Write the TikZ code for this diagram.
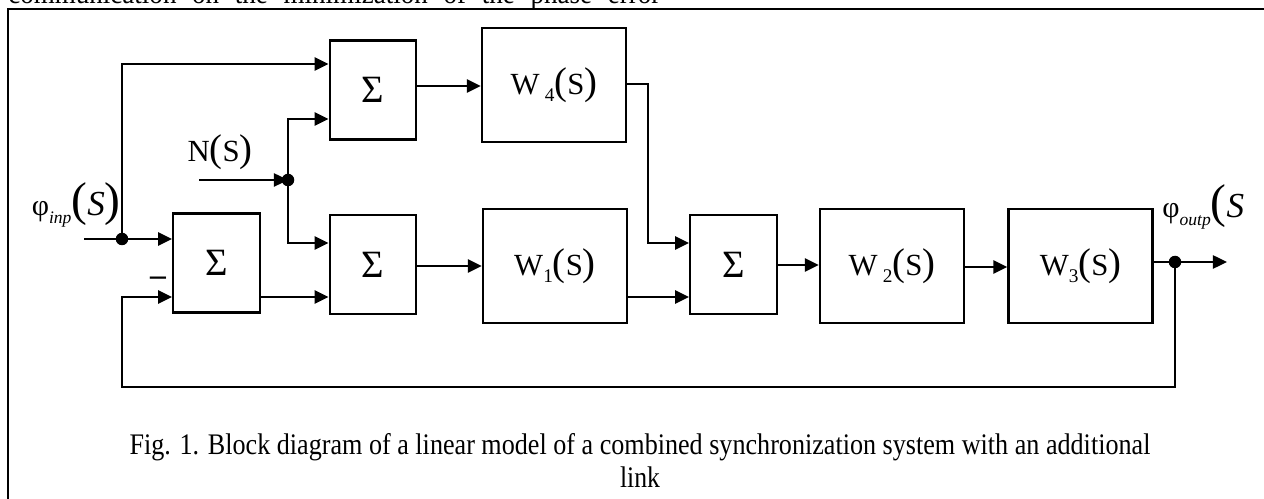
\documentclass[tikz,border=0pt]{standalone}
\usepackage{fontspec}
\usepackage{graphicx}
\setmainfont{Liberation Serif}
\usetikzlibrary{arrows.meta}
\tikzset{
  blk/.style={draw, line width=1.35pt, inner sep=0pt, align=center},
  sig/.style={blk, minimum width=1.73cm, minimum height=1.98cm, font=\fontsize{22}{22}\selectfont},
  wbox/.style={blk, minimum width=2.88cm, minimum height=2.28cm, font=\fontsize{17.5}{18}\selectfont},
  wire/.style={line width=1.15pt},
  arr/.style={wire, -{Triangle[length=8pt,width=7.5pt]}},
  jdot/.style={circle, fill, inner sep=0pt, minimum size=0.25cm},
  lbl/.style={inner sep=0pt},
  captxt/.style={inner sep=0pt, font=\fontsize{17}{17}\selectfont},
}
\newcommand{\bigp}[1]{{\fontsize{22}{22}\selectfont #1}}
\begin{document}
\begin{tikzpicture}[x=0.02cm, y=-0.02cm]
\useasboundingbox (0,0) rectangle (1264,499);
\clip (0,0) rectangle (1264,499);
% frame and clipped text above it
\draw[line width=1pt] (8,520) -- (8,9) -- (1280,9);
\node[captxt, anchor=base west] (toptext) at (8,3.5) {\resizebox{371pt}{\height}{\makebox[410pt][s]{communication on the minimization of the phase error}}};
% blocks
\node[sig] (st) at (373,90) {Σ};
\node[wbox] (w4) at (554,85) {W\,\raisebox{-0.25em}{\fontsize{11}{11}\selectfont 4}\bigp{(}S\bigp{)}};
\node[sig] (s1) at (216.5,263) {Σ};
\node[sig] (s2) at (373,264.5) {Σ};
\node[wbox] (w1) at (555,266) {W\raisebox{-0.25em}{\fontsize{11}{11}\selectfont 1}\bigp{(}S\bigp{)}};
\node[sig] (s3) at (733.5,264.5) {Σ};
\node[wbox] (w2) at (892,266) {W\,\raisebox{-0.25em}{\fontsize{11}{11}\selectfont 2}\bigp{(}S\bigp{)}};
\node[wbox] (w3) at (1080.5,266) {W\raisebox{-0.25em}{\fontsize{11}{11}\selectfont 3}\bigp{(}S\bigp{)}};
% labels
\node[lbl, anchor=east, font=\fontsize{17.5}{18}\selectfont] (nlab) at (253,152) {N\bigp{(}S\bigp{)}};
\node[lbl, anchor=east] (philab) at (121,205) {{\fontsize{17}{18}\selectfont φ}\raisebox{-0.45em}{\fontsize{10}{10}\selectfont\itshape inp}{\fontsize{27}{27}\selectfont (}{\fontsize{20}{20}\selectfont\itshape S}{\fontsize{27}{27}\selectfont )}};
\node[lbl, anchor=west] (phoutlab) at (1162,207) {{\fontsize{17}{18}\selectfont φ}\raisebox{-0.45em}{\fontsize{10}{10}\selectfont\itshape outp}{\fontsize{27}{27}\selectfont (}{\fontsize{20}{20}\selectfont\itshape S}};
\node[lbl, font=\bfseries\fontsize{18}{18}\selectfont] (minus) at (158,281) {–};
% coordinates
\coordinate (inL) at (84,239);
\coordinate (jphi) at (122,239);
\coordinate (t1) at (122,64);
\coordinate (nL) at (199,180);
\coordinate (jn) at (288,180);
\coordinate (n1) at (288,119);
\coordinate (n2) at (288,243);
\coordinate (yA) at (0,297);
\coordinate (yB) at (0,86);
\coordinate (yC) at (0,266);
\coordinate (yD) at (0,265);
\coordinate (yE) at (0,267);
\coordinate (b1) at (648,84);
\coordinate (b2) at (648,243);
\coordinate (jout) at (1175,262);
\coordinate (outR) at (1227,262);
\coordinate (fb) at (122,387);
% connectors
\draw[wire] (inL) -- (jphi);
\draw[arr] (jphi) -- (s1.west |- jphi);
\draw[arr] (jphi) -- (t1) -- (st.west |- t1);
\draw[arr] (nL) -- (jn);
\draw[arr] (jn) -- (n1) -- (st.west |- n1);
\draw[arr] (jn) -- (n2) -- (s2.west |- n2);
\draw[arr] (s1.east |- yA) -- (s2.west |- yA);
\draw[arr] (st.east |- yB) -- (w4.west |- yB);
\draw[arr] (s2.east |- yC) -- (w1.west |- yC);
\draw[arr] (w4.east |- b1) -- (b1) -- (b2) -- (s3.west |- b2);
\draw[arr] (w1.east |- yA) -- (s3.west |- yA);
\draw[arr] (s3.east |- yD) -- (w2.west |- yD);
\draw[arr] (w2.east |- yE) -- (w3.west |- yE);
\draw[wire] (w3.east |- jout) -- (jout);
\draw[arr] (jout) -- (outR);
\draw[arr] (jout) -- (jout |- fb) -- (fb) -- (fb |- yA) -- (s1.west |- yA);
\node[jdot] (d1) at (jphi) {};
\node[jdot] (d2) at (jn) {};
\node[jdot] (d3) at (jout) {};
% caption
\node[captxt, anchor=base] (cap1) at (640,455) {\resizebox{581pt}{\height}{Fig. 1. Block diagram of a linear model of a combined synchronization system with an additional}};
\node[captxt, anchor=base] (cap2) at (640,488) {\scalebox{0.86}[1]{link}};
\end{tikzpicture}
\end{document}
